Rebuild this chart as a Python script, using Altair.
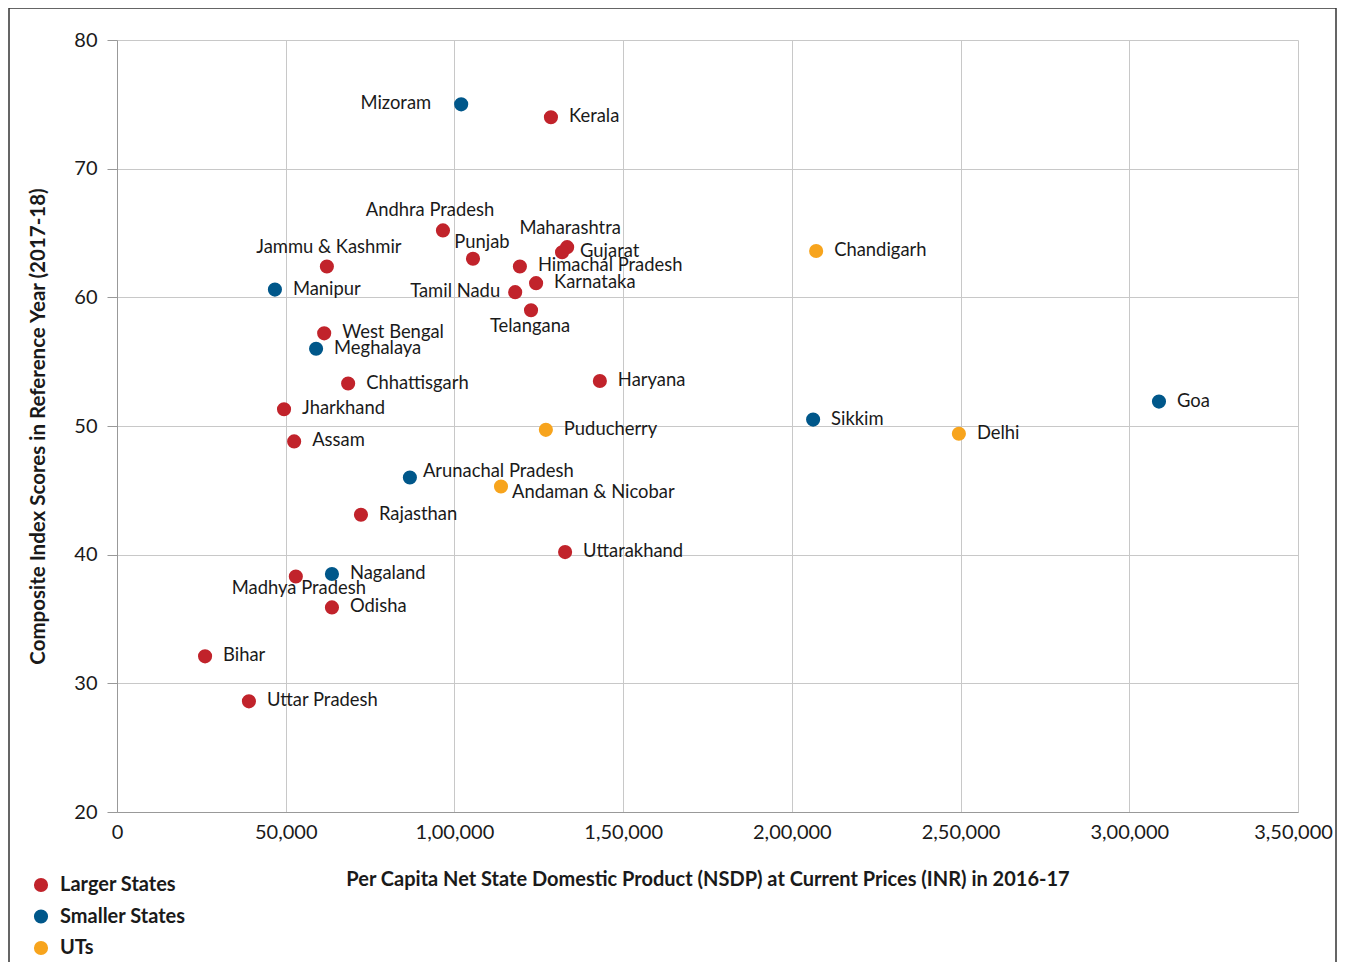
import altair as alt
import pandas as pd

names = ["Kerala", "Andhra Pradesh", "Punjab", "Maharashtra", "Gujarat", "Himachal Pradesh",
         "Karnataka", "Tamil Nadu", "Telangana", "Jammu & Kashmir", "West Bengal", "Chhattisgarh",
         "Jharkhand", "Assam", "Haryana", "Rajasthan", "Uttarakhand", "Madhya Pradesh", "Odisha",
         "Bihar", "Uttar Pradesh",
         "Mizoram", "Manipur", "Meghalaya", "Arunachal Pradesh", "Nagaland", "Sikkim", "Goa",
         "Chandigarh", "Puducherry", "Andaman & Nicobar", "Delhi"]
nsdp = [128600, 96600, 105500, 133400, 131900, 119400,
        124200, 118000, 122700, 62200, 61400, 68500,
        49500, 52500, 143100, 72300, 132800, 53000, 63700,
        26100, 39100,
        102000, 46800, 59000, 86800, 63700, 206300, 308800,
        207200, 127100, 113800, 249500]
scores = [74.0, 65.2, 63.0, 63.9, 63.5, 62.4,
          61.1, 60.4, 59.0, 62.4, 57.2, 53.3,
          51.3, 48.8, 53.5, 43.1, 40.2, 38.3, 35.9,
          32.1, 28.6,
          75.0, 60.6, 56.0, 46.0, 38.5, 50.5, 51.9,
          63.6, 49.7, 45.3, 49.4]
groups = ["Larger States"] * 21 + ["Smaller States"] * 7 + ["UTs"] * 4

group_order = ["Larger States", "Smaller States", "UTs"]
group_colors = ["#c1232b", "#00578a", "#f7a41d"]

x_ticks = [0, 50000, 100000, 150000, 200000, 250000, 300000, 350000]
y_ticks = [20, 30, 40, 50, 60, 70, 80]

# label placement (dx, dy, align) for labels that are not to the right of their point
default_place = (18, -1, "left")
special_place = {
    "Mizoram": (-30, -1, "right"),
    "Tamil Nadu": (-15, -1, "right"),
    "Andhra Pradesh": (-13, -20, "center"),
    "Punjab": (9, -17, "center"),
    "Maharashtra": (3, -19, "center"),
    "Jammu & Kashmir": (2, -19, "center"),
    "Telangana": (-1, 16, "center"),
    "Madhya Pradesh": (3, 11, "center"),
    "Arunachal Pradesh": (13, -6, "left"),
    "Andaman & Nicobar": (11, 6, "left"),
}

df = pd.DataFrame({"name": names, "nsdp": nsdp, "score": scores, "group": groups})

FONT = "Lato"
TXT = "#1a1a1a"

label_expr = ("datum.value >= 100000 ? floor(datum.value / 100000) + ',' + "
              "format((datum.value % 100000) / 1000, '02d') + ',000' : format(datum.value, ',')")

x_enc = alt.X("nsdp:Q", scale=alt.Scale(domain=[0, 350000], nice=False, zero=True),
              axis=alt.Axis(values=x_ticks, labelExpr=label_expr, ticks=False, labelPadding=10,
                            labelFlush=False,
                            labelOffset={"expr": "datum.value >= 350000 ? -5 : 0"},
                            title="Per Capita Net State Domestic Product (NSDP) at Current Prices (INR) in 2016-17",
                            titleY=67, titleBaseline="middle"))
y_enc = alt.Y("score:Q", scale=alt.Scale(domain=[20, 80], nice=False, zero=False),
              axis=alt.Axis(values=y_ticks, tickSize=10, labelPadding=10,
                            title="Composite Index Scores in Reference Year (2017-18)",
                            titleX=-79, titleY=386, titleAlign="center", titleBaseline="middle",
                            titleFontSize=20.5))

base = alt.Chart(df)

points = base.mark_circle(size=200, opacity=1).encode(
    x=x_enc, y=y_enc,
    color=alt.Color("group:N", scale=alt.Scale(domain=group_order, range=group_colors),
                    legend=alt.Legend(title=None, orient="none", legendX=-86, legendY=835,
                                      symbolType="circle", symbolSize=200, symbolOpacity=1,
                                      symbolStrokeWidth=0, labelFont=FONT, labelFontSize=20,
                                      labelFontWeight="bold", labelColor=TXT, rowPadding=11.5,
                                      labelOffset=9)),
)

specs = {}
for n in names:
    specs.setdefault(special_place.get(n, default_place), []).append(n)

label_layers = []
for (dx, dy, align), members in specs.items():
    label_layers.append(
        base.transform_filter(alt.FieldOneOfPredicate(field="name", oneOf=members))
        .mark_text(dx=dx, dy=dy, align=align, baseline="middle", font=FONT, fontSize=18.4, color=TXT)
        .encode(x=alt.X("nsdp:Q"), y=alt.Y("score:Q"), text="name:N")
    )

frame = alt.Chart(alt.Data(values=[{"a": 1}])).mark_rect(
    fillOpacity=0, stroke="#333333", strokeWidth=1.5, clip=False
).encode(x=alt.value(-108), x2=alt.value(1219), y=alt.value(-32), y2=alt.value(1000))

chart = alt.layer(frame, points, *label_layers).properties(
    width=1181, height=772,
    padding={"left": 109, "top": 32, "right": 39, "bottom": 150},
    autosize=alt.AutoSizeParams(type="none"),
).configure_view(stroke=None).configure_axis(
    gridColor="#c8c8c8", gridWidth=1, domainColor="#999999", tickColor="#999999",
    labelFont=FONT, labelFontSize=20, labelColor=TXT,
    titleFont=FONT, titleFontSize=20, titleFontWeight="bold", titleColor=TXT,
)

chart.save("out.html", embed_options={"renderer": "svg", "actions": False})
